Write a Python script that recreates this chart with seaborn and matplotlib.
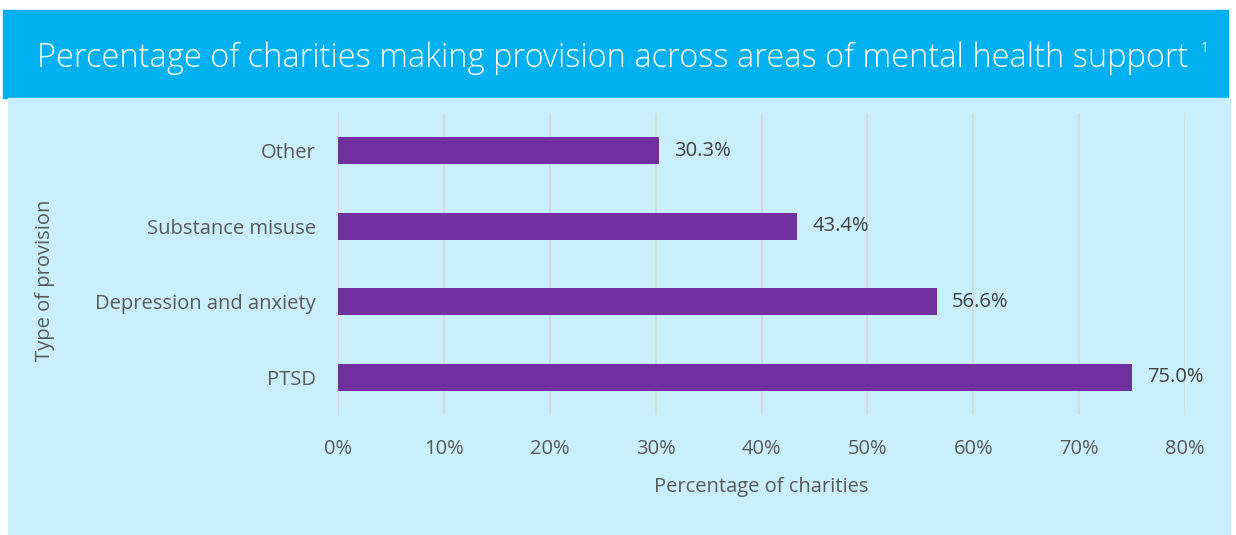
import matplotlib
matplotlib.use("Agg")
import matplotlib.pyplot as plt
import pandas as pd
import seaborn as sns
from matplotlib.patches import Rectangle
from matplotlib.ticker import FuncFormatter

# dados
categories = ["Other", "Substance misuse", "Depression and anxiety", "PTSD"]
values = [30.3, 43.4, 56.6, 75.0]
x_ticks = [0, 10, 20, 30, 40, 50, 60, 70, 80]

df = pd.DataFrame({"category": categories, "value": values})

sns.set_theme(style="white")
plt.rcParams["font.family"] = ["Open Sans", "DejaVu Sans"]

W, H = 1236, 535
fig = plt.figure(figsize=(W / 100, H / 100), dpi=100)
fig.patch.set_facecolor("white")

# faixa do título e painel
fig.patches.append(Rectangle((3 / W, 1 - 98 / H), 1225 / W, 88 / H,
                             transform=fig.transFigure, color="#00B0F0", zorder=0))
fig.patches.append(Rectangle((8 / W, 0), 1222 / W, 1 - 98 / H,
                             transform=fig.transFigure, color="#C9EFFD", zorder=0))

fig.text(37 / W, 1 - 58 / H,
         "Percentage of charities making provision across areas of mental health support",
         color="white", fontsize=23.5, va="center", ha="left", fontweight="light",
         family=["Open Sans", "DejaVu Sans"])
fig.text(1201 / W, 1 - 49 / H, "1", color="white", fontsize=10, va="center",
         ha="left", family=["Open Sans", "DejaVu Sans"])

ax = fig.add_axes([338 / W, 120 / H, 847 / W, 302 / H])
ax.set_zorder(2)
ax.set_facecolor("none")

sns.barplot(data=df, x="value", y="category", order=categories, orient="h",
            color="#7030A0", saturation=1, width=0.36, linewidth=0, ax=ax, zorder=3)

ax.set_xlim(0, 80)
ax.set_ylim(3.5, -0.5)
ax.set_xticks(x_ticks)
ax.xaxis.set_major_formatter(FuncFormatter(lambda v, p: f"{v:.0f}%"))
ax.grid(axis="x", color="#D9D9D9", linewidth=1.5, zorder=0)
ax.grid(axis="y", visible=False)
for s in ax.spines.values():
    s.set_visible(False)
ax.tick_params(axis="both", length=0, labelsize=14.5, colors="#595959")
ax.tick_params(axis="x", pad=17)
ax.tick_params(axis="y", pad=16)

for i, v in enumerate(values):
    ax.text(v + 1.4, i, f"{v:.1f}%", va="center", ha="left",
            fontsize=14.5, color="#404040", zorder=4)

ax.set_xlabel("Percentage of charities", fontsize=14.5, color="#595959", labelpad=13)
ax.set_ylabel("")
fig.text(45 / W, 1 - 280 / H, "Type of provision", rotation=90, fontsize=14.5,
         color="#595959", va="center", ha="center")

fig.savefig("out.png", dpi=100)
